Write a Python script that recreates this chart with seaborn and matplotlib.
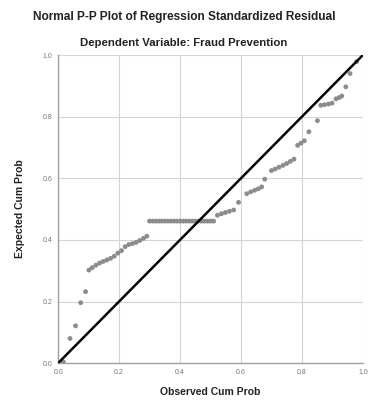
import pandas as pd
import matplotlib.pyplot as plt
import seaborn as sns

# observed vs expected cumulative probabilities
obs_cum_prob = [
    0.017, 0.039, 0.057, 0.074, 0.090,
    0.101, 0.112, 0.124, 0.136, 0.148, 0.160, 0.172, 0.184, 0.196,
    0.208, 0.220, 0.232, 0.244, 0.256, 0.268, 0.280, 0.291,
    0.300, 0.310, 0.320, 0.330, 0.340, 0.350, 0.360, 0.370, 0.380,
    0.390, 0.400, 0.410, 0.420, 0.430, 0.440, 0.450, 0.460, 0.470,
    0.480, 0.490, 0.500, 0.510,
    0.523, 0.536, 0.549, 0.562, 0.576, 0.592,
    0.619, 0.632, 0.645, 0.657, 0.668, 0.678,
    0.700, 0.712, 0.725, 0.738, 0.750, 0.762, 0.774,
    0.786, 0.797, 0.808, 0.823, 0.851,
    0.862, 0.874, 0.887, 0.899, 0.912, 0.922, 0.931,
    0.944, 0.958, 0.980,
]
exp_cum_prob = [
    0.004, 0.080, 0.121, 0.196, 0.232,
    0.302, 0.310, 0.318, 0.325, 0.330, 0.335, 0.340, 0.347, 0.357,
    0.365, 0.378, 0.385, 0.388, 0.392, 0.398, 0.405, 0.412,
    0.461, 0.461, 0.461, 0.461, 0.461, 0.461, 0.461, 0.461, 0.461,
    0.461, 0.461, 0.461, 0.461, 0.461, 0.461, 0.461, 0.461, 0.461,
    0.461, 0.461, 0.461, 0.461,
    0.480, 0.485, 0.489, 0.493, 0.497, 0.522,
    0.550, 0.556, 0.561, 0.566, 0.572, 0.597,
    0.625, 0.630, 0.636, 0.642, 0.648, 0.655, 0.662,
    0.707, 0.714, 0.722, 0.751, 0.787,
    0.837, 0.839, 0.841, 0.844, 0.858, 0.862, 0.867,
    0.897, 0.940, 0.979,
]
ticks = [0.0, 0.2, 0.4, 0.6, 0.8, 1.0]
tick_labels = ["0.0", "0.2", "0.4", "0.6", "0.8", "1.0"]

sns.set_style("whitegrid")
plt.rcParams["font.family"] = ["Liberation Sans", "DejaVu Sans"]


def main():
    df = pd.DataFrame({"observed": obs_cum_prob, "expected": exp_cum_prob})

    fig = plt.figure(figsize=(3.68, 4.08), dpi=100)
    ax = fig.add_axes([0.158, 0.11, 0.828, 0.755])

    sns.scatterplot(x="observed", y="expected", data=df, ax=ax,
                    color="#8c8c8c", s=12, edgecolor="none", zorder=3)
    ax.axline((0, 0), slope=1, color="black", lw=1.8, zorder=4)

    ax.set_xlim(0, 1)
    ax.set_ylim(0, 1)
    ax.set_xticks(ticks)
    ax.set_xticklabels(tick_labels)
    ax.set_yticks(ticks)
    ax.set_yticklabels(tick_labels)
    ax.tick_params(labelsize=5, colors="#777777", length=2, pad=2)
    ax.grid(True, color="#d4d4d4", lw=0.8)

    for side in ["top", "right"]:
        ax.spines[side].set_visible(False)
    for side in ["left", "bottom"]:
        ax.spines[side].set_color("#a0a0a0")
        ax.spines[side].set_linewidth(1.0)

    ax.set_xlabel("Observed Cum Prob", fontsize=7.5, fontweight="bold",
                  color="#222222", labelpad=8)
    ax.set_ylabel("Expected Cum Prob", fontsize=7.5, fontweight="bold",
                  color="#222222", labelpad=13)

    fig.text(0.5, 0.958, "Normal P-P Plot of Regression Standardized Residual",
             ha="center", va="center", fontsize=8.6, fontweight="bold", color="#222222")
    fig.text(0.5, 0.895, "Dependent Variable: Fraud Prevention",
             ha="center", va="center", fontsize=8.2, fontweight="bold", color="#222222")

    fig.savefig("out.png", dpi=100)


if __name__ == "__main__":
    main()
